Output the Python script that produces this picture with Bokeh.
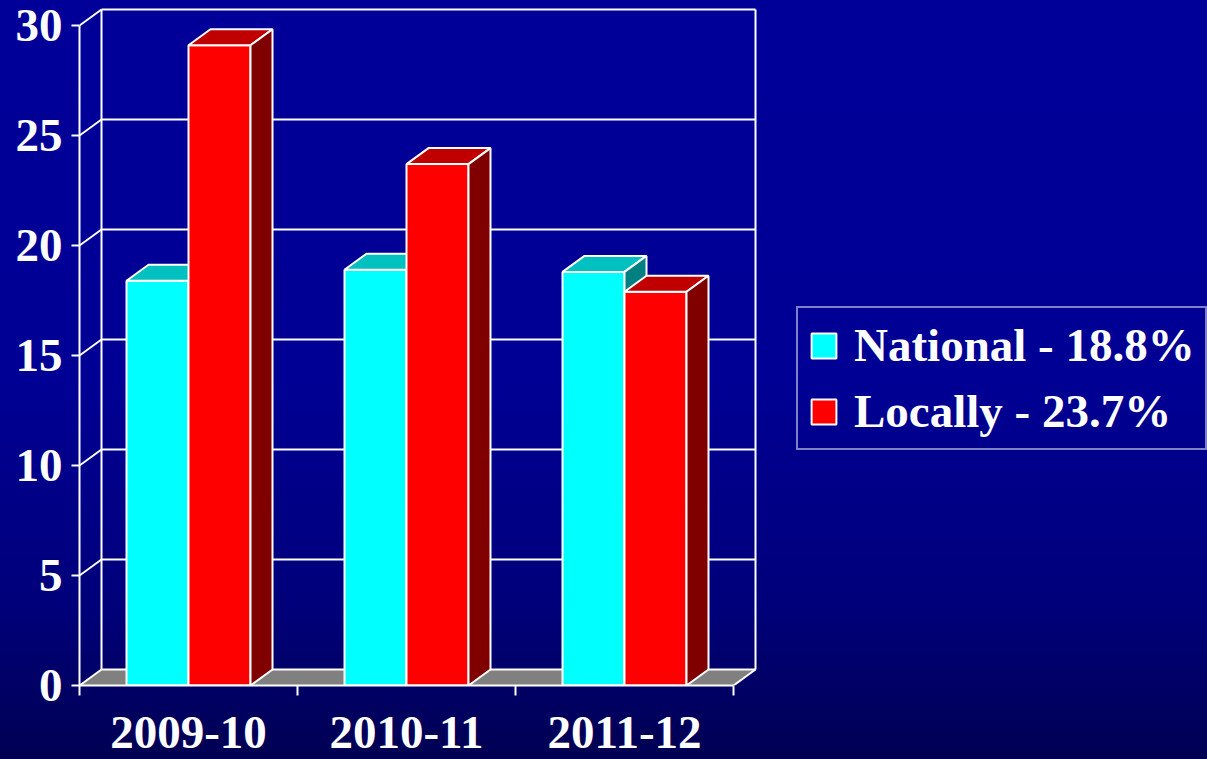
from bokeh.plotting import figure
from bokeh.models import Range1d, FixedTicker, LinearAxis, Legend, LegendItem
from bokeh.embed import file_html
from bokeh.resources import INLINE

# ---------------- data ----------------
categories = ["2009-10", "2010-11", "2011-12"]
national = [18.4, 18.9, 18.8]
locally = [29.1, 23.7, 17.9]
y_ticks = [0, 5, 10, 15, 20, 25, 30]
legend_labels = ["National - 18.8%", "Locally - 23.7%"]

# ---------------- style / geometry ----------------
FONT = "Liberation Serif"
FS = "47px"
PX_X = 218.0          # pixels per category
PX_Y = 22.0           # pixels per value unit
FRAME_W = 1128
FRAME_H = 685
DEPTH_X = 22.0 / PX_X
DEPTH_Y = 16.0 / PX_Y
BAR_W = 62.0 / PX_X

n = len(categories)
ymax = y_ticks[-1]

p = figure(frame_width=FRAME_W, frame_height=FRAME_H,
           x_range=Range1d(0, FRAME_W / PX_X), y_range=Range1d(0, FRAME_H / PX_Y),
           output_backend="svg", toolbar_location=None,
           x_axis_type=None, y_axis_type=None,
           min_border_left=79, min_border_top=0, min_border_right=0, min_border_bottom=74)
p.background_fill_alpha = 0
p.border_fill_alpha = 0
p.outline_line_color = None

# floor
p.patch(x=[0, n, n + DEPTH_X, DEPTH_X], y=[0, 0, DEPTH_Y, DEPTH_Y],
        fill_color="#808080", line_color=None)

# back wall, gridlines and side-wall diagonals
x0s, y0s, x1s, y1s = [], [], [], []
for t in y_ticks:
    x0s += [DEPTH_X, 0]
    y0s += [t + DEPTH_Y, t]
    x1s += [n + DEPTH_X, DEPTH_X]
    y1s += [t + DEPTH_Y, t + DEPTH_Y]
x0s += [DEPTH_X, n + DEPTH_X, n]
y0s += [DEPTH_Y, DEPTH_Y, 0]
x1s += [DEPTH_X, n + DEPTH_X, n + DEPTH_X]
y1s += [ymax + DEPTH_Y, ymax + DEPTH_Y, DEPTH_Y]
p.segment(x0=x0s, y0=y0s, x1=x1s, y1=y1s, line_color="white", line_width=2)

# 3D bars
series = [
    (national, "#00FFFF", "#00C0C0", "#008080"),
    (locally, "#FF0000", "#C00000", "#800000"),
]
front_renderers = []
for s, (vals, c_front, c_top, c_side) in enumerate(series):
    lefts = [i + 0.5 - BAR_W + s * BAR_W for i in range(n)]
    rights = [l + BAR_W for l in lefts]
    r = p.quad(left=lefts, right=rights, bottom=[0] * n, top=vals,
               fill_color=c_front, line_color="white", line_width=2)
    front_renderers.append(r)
    top_xs = [[l, rr, rr + DEPTH_X, l + DEPTH_X] for l, rr in zip(lefts, rights)]
    top_ys = [[v, v, v + DEPTH_Y, v + DEPTH_Y] for v in vals]
    p.patches(xs=top_xs, ys=top_ys, fill_color=c_top, line_color="white", line_width=2)
    side_xs = [[rr, rr, rr + DEPTH_X, rr + DEPTH_X] for rr in rights]
    side_ys = [[0, v, v + DEPTH_Y, DEPTH_Y] for v in vals]
    p.patches(xs=side_xs, ys=side_ys, fill_color=c_side, line_color="white", line_width=2)

# axes
yaxis = LinearAxis(ticker=FixedTicker(ticks=y_ticks, minor_ticks=[]), bounds=(0, ymax))
yaxis.axis_line_color = "white"
yaxis.axis_line_width = 2
yaxis.major_tick_line_color = "white"
yaxis.major_tick_line_width = 2
yaxis.major_tick_out = 8
yaxis.major_tick_in = 0
yaxis.minor_tick_line_color = None
yaxis.major_label_standoff = 9
yaxis.major_label_text_color = "white"
yaxis.major_label_text_font = FONT
yaxis.major_label_text_font_style = "bold"
yaxis.major_label_text_font_size = FS
p.add_layout(yaxis, "left")

xaxis = LinearAxis(ticker=FixedTicker(ticks=[i + 0.5 for i in range(n)],
                                      minor_ticks=list(range(n + 1))),
                   bounds=(0, n))
xaxis.major_label_overrides = {i + 0.5: c for i, c in enumerate(categories)}
xaxis.axis_line_color = "white"
xaxis.axis_line_width = 2
xaxis.major_tick_line_color = None
xaxis.major_tick_out = 0
xaxis.major_tick_in = 0
xaxis.minor_tick_line_color = "white"
xaxis.minor_tick_line_width = 2
xaxis.minor_tick_out = 10
xaxis.minor_tick_in = 0
xaxis.major_label_standoff = 21
xaxis.major_label_text_color = "white"
xaxis.major_label_text_font = FONT
xaxis.major_label_text_font_style = "bold"
xaxis.major_label_text_font_size = FS
p.add_layout(xaxis, "below")

legend = Legend(items=[LegendItem(label=lab, renderers=[r])
                       for lab, r in zip(legend_labels, front_renderers)],
                location=(717, 235))
legend.label_text_font = FONT
legend.label_text_font_style = "bold"
legend.label_text_font_size = FS
legend.label_text_color = "white"
legend.glyph_width = 31
legend.glyph_height = 31
legend.label_standoff = 15
legend.padding = 10
legend.spacing = 12
legend.margin = 0
legend.border_line_color = "white"
legend.border_line_width = 2
legend.background_fill_alpha = 0
p.add_layout(legend)

html = file_html(p, INLINE, title="chart")
style = ("<style>html{min-height:100%;background:linear-gradient(to bottom,"
         "#000099 0%,#000094 50%,#00007a 80%,#000052 100%);}"
         "body{background:transparent;}</style>")
html = html.replace("</head>", style + "</head>", 1)
open("out.html", "w").write(html)
